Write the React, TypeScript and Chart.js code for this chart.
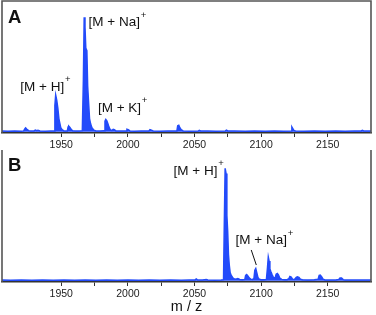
import React, { useEffect, useRef } from 'react';
import { Chart, registerables } from 'chart.js';

Chart.register(...registerables);

// ---- data ----
const X_MIN = 1905.5;
const X_MAX = 2182.5;
const Y_MIN = -1;
const Y_MAX = 100;
const majorTicks = [1950, 2000, 2050, 2100, 2150];
const axisTitle = 'm / z';

// Panel A spectrum (m/z, relative intensity)
const mzA = [
  1905.5, 1910, 1915, 1920, 1921.8, 1922.6, 1923.2, 1924.2, 1925.5, 1927, 1929.5, 1930.5, 1931.5, 1932.5, 1934,
  1938, 1942, 1944.6, 1945.2, 1945.8, 1946.6, 1947.4, 1948.2, 1948.8, 1949.6, 1950.6, 1952, 1954.5, 1955.1,
  1955.6, 1956.5, 1957.4, 1958.5, 1961, 1963.5, 1965.8, 1966.6, 1967.2, 1967.8, 1968.4, 1969.2, 1969.8, 1970.4,
  1971.2, 1972, 1973, 1974.5, 1976, 1979, 1982.2, 1982.8, 1983.4, 1984.2, 1985, 1985.8, 1986.8, 1988, 1989,
  1989.8, 1991, 1994, 1998.6, 1999.3, 2000.3, 2001.5, 2005, 2010, 2015.8, 2016.6, 2017.6, 2019, 2024, 2030,
  2036.8, 2037.4, 2038.2, 2039, 2040, 2041.5, 2046, 2052.8, 2053.6, 2054.6, 2060, 2066, 2073.2, 2074, 2075,
  2080, 2088, 2095, 2103, 2110, 2117, 2122.6, 2123.1, 2123.8, 2124.6, 2125.8, 2132, 2140, 2148, 2156, 2163,
  2170, 2175.2, 2176, 2177, 2182.5,
];
const intA = [
  0.5, 0.4, 0.6, 0.4, 0.6, 2.2, 2.9, 1.8, 0.8, 0.5, 0.6, 1.2, 0.7, 1.1, 0.5,
  0.4, 0.5, 0.6, 20, 28, 24, 18, 10, 7, 3, 1.5, 0.6, 0.5, 3.5,
  4.2, 3.2, 1.8, 0.7, 0.5, 0.5, 0.8, 40, 87.5, 80, 64, 62, 35, 24,
  10, 6, 3, 1.2, 0.6, 0.5, 0.7, 8, 9.3, 8.2, 6, 3.5, 1.5, 0.8, 1.8,
  1.6, 0.6, 0.5, 0.6, 1.8, 1.5, 0.6, 0.4, 0.5, 0.6, 1.6, 1.2, 0.5, 0.4, 0.5,
  0.6, 4.6, 5, 3, 1.5, 0.6, 0.4, 0.5, 1.1, 0.6, 0.5, 0.4, 0.6, 1.2, 0.6,
  0.5, 0.4, 0.5, 0.4, 0.5, 0.4, 0.6, 3.6, 2.4, 1, 0.5, 0.4, 0.5, 0.4, 0.5, 0.4,
  0.5, 0.6, 1.1, 0.6, 0.5,
];

// Panel B spectrum
const mzB = [
  1905.5, 1912, 1920, 1928, 1936, 1944, 1952, 1960, 1968, 1976, 1984, 1992, 2000, 2008, 2016, 2024, 2032, 2040,
  2046, 2050.5, 2051.3, 2052.2, 2056, 2058.8, 2060, 2065, 2070, 2071.8, 2072.4, 2073, 2073.7, 2074.3, 2074.9,
  2075.5, 2076.1, 2076.8, 2077.6, 2078.6, 2079.6, 2081, 2082.5, 2084, 2086, 2087.8, 2088.4, 2089.2, 2090.2,
  2091.2, 2092.2, 2093.5, 2094.6, 2095.3, 2096, 2096.8, 2097.6, 2098.6, 2100, 2102, 2104, 2104.8, 2105.4, 2106,
  2106.6, 2107.3, 2108.2, 2109.2, 2110.5, 2111.3, 2112.2, 2113, 2114, 2115.5, 2117.5, 2119.5, 2120.8, 2121.6,
  2122.6, 2123.6, 2125, 2126.4, 2127.2, 2128.4, 2129.5, 2131, 2135, 2140, 2142.8, 2143.6, 2144.4, 2145.4,
  2146.5, 2148, 2152, 2156, 2158.3, 2159.2, 2160.4, 2161.6, 2163, 2168, 2174, 2178, 2182.5,
];
const intB = [
  0.5, 0.4, 0.5, 0.4, 0.5, 0.4, 0.5, 0.4, 0.5, 0.4, 0.5, 0.4, 0.5, 0.4, 0.5, 0.4, 0.5, 0.4,
  0.5, 0.6, 1.3, 0.6, 0.5, 0.9, 0.5, 0.4, 0.5, 0.8, 45, 86, 82, 50, 38,
  20, 12, 6, 4, 2.5, 1.5, 1.2, 1.6, 0.9, 0.8, 1, 4, 4.7, 3.5,
  2, 1.2, 1, 1.5, 8, 9.3, 6, 2.5, 1.2, 0.8, 0.8, 1, 10, 18, 15,
  9, 7, 4.7, 2.5, 2, 5, 5.5, 4.5, 2, 1, 0.8, 0.8, 1.5, 3.2,
  2.8, 1.2, 1, 2.6, 3, 2.6, 1.2, 0.7, 0.6, 0.7, 1.2, 4, 4.2, 3,
  1.2, 0.6, 0.5, 0.6, 1, 2.1, 2, 0.8, 0.5, 0.5, 0.6, 0.5, 0.6,
];

// Peak annotations: text and anchor (m/z, intensity) of the text's left-middle
const annTextA = ['[M + H]', '[M + Na]', '[M + K]'];
const annMzA = [1919.2, 1970.5, 1977.5];
const annIntA = [34, 83.4, 17.9];
const annTextB = ['[M + H]', '[M + Na]'];
const annMzB = [2034.3, 2080.8];
const annIntB = [83.9, 30.6];
// Pointer line for [M + Na]+ in B (from, to) in data coords
const pointerB = [
  [2092.6, 23.5],
  [2096.4, 12],
];

const BLUE = 'rgb(35, 75, 250)';
const FRAME = '#555';
const FONT = '"Liberation Sans", Arial, Helvetica, sans-serif';

function makeDecor(letter: string, letterOffset: number, drawTop: boolean, texts: string[], mzs: number[], ints: number[], pointer: number[][] | null, title: boolean) {
  return {
    id: 'decor' + letter,
    afterDraw(chart: any) {
      const { ctx, chartArea, scales } = chart;
      const xs = scales.x;
      const ys = scales.y;
      ctx.save();
      // frame
      ctx.strokeStyle = FRAME;
      ctx.lineWidth = 1.6;
      ctx.beginPath();
      ctx.moveTo(chartArea.left, chartArea.bottom);
      ctx.lineTo(chartArea.left, chartArea.top);
      if (drawTop) ctx.lineTo(chartArea.right, chartArea.top);
      else ctx.moveTo(chartArea.right, chartArea.top);
      ctx.lineTo(chartArea.right, chartArea.bottom);
      ctx.stroke();
      // panel letter
      ctx.fillStyle = '#111';
      ctx.font = 'bold 18.5px ' + FONT;
      ctx.textAlign = 'left';
      ctx.textBaseline = 'alphabetic';
      ctx.fillText(letter, chartArea.left + 6, chartArea.top + letterOffset);
      // annotations
      for (let i = 0; i < texts.length; i++) {
        const x = xs.getPixelForValue(mzs[i]);
        const y = ys.getPixelForValue(ints[i]);
        ctx.font = '13.5px ' + FONT;
        ctx.textBaseline = 'middle';
        ctx.fillText(texts[i], x, y);
        const w = ctx.measureText(texts[i]).width;
        ctx.font = '9.5px ' + FONT;
        ctx.fillText('+', x + w + 0.8, y - 7.5);
      }
      if (pointer) {
        ctx.strokeStyle = '#111';
        ctx.lineWidth = 1;
        ctx.beginPath();
        ctx.moveTo(xs.getPixelForValue(pointer[0][0]), ys.getPixelForValue(pointer[0][1]));
        ctx.lineTo(xs.getPixelForValue(pointer[1][0]), ys.getPixelForValue(pointer[1][1]));
        ctx.stroke();
      }
      if (title) {
        ctx.fillStyle = '#111';
        ctx.font = '14.5px ' + FONT;
        ctx.textAlign = 'center';
        ctx.textBaseline = 'middle';
        ctx.fillText(axisTitle, (chartArea.left + chartArea.right) / 2, chartArea.bottom + 24.5);
      }
      ctx.restore();
    },
  };
}

function buildConfig(mz: number[], inten: number[], padTop: number, scaleHeight: number, plugin: any) {
  return {
    type: 'line',
    data: {
      datasets: [
        {
          data: mz.map((x, i) => ({ x, y: inten[i] })),
          borderColor: BLUE,
          backgroundColor: BLUE,
          borderWidth: 1.5,
          fill: 'origin',
          pointRadius: 0,
          tension: 0,
        },
      ],
    },
    options: {
      responsive: false,
      animation: false,
      devicePixelRatio: 1,
      layout: { padding: { left: 2, right: 5, top: padTop, bottom: 0 } },
      plugins: { legend: { display: false }, tooltip: { enabled: false } },
      scales: {
        x: {
          type: 'linear',
          position: 'bottom',
          min: X_MIN,
          max: X_MAX,
          afterBuildTicks: (scale: any) => {
            scale.ticks = scale.ticks.filter((t: any) => Math.abs(t.value / 25 - Math.round(t.value / 25)) < 1e-6);
          },
          afterFit: (scale: any) => {
            scale.height = scaleHeight;
          },
          ticks: {
            stepSize: 25,
            autoSkip: false,
            maxRotation: 0,
            padding: 2,
            color: '#222',
            font: { family: FONT, size: 10.5 },
            callback: (v: any) => (majorTicks.includes(Number(v)) ? String(v) : ''),
          },
          grid: { drawOnChartArea: false, drawTicks: true, tickLength: 4, color: '#333', lineWidth: 1 },
          border: { display: true, color: '#333', width: 1.5 },
        },
        y: { display: false, min: Y_MIN, max: Y_MAX },
      },
    },
    plugins: [plugin],
  };
}

export default function App() {
  const refA = useRef<HTMLCanvasElement | null>(null);
  const refB = useRef<HTMLCanvasElement | null>(null);

  useEffect(() => {
    const chartA = new Chart(
      refA.current as HTMLCanvasElement,
      buildConfig(mzA, intA, 1, 17, makeDecor('A', 22, true, annTextA, annMzA, annIntA, null, false)) as any
    );
    const chartB = new Chart(
      refB.current as HTMLCanvasElement,
      buildConfig(mzB, intB, 0, 33, makeDecor('B', 20.5, false, annTextB, annMzB, annIntB, pointerB, true)) as any
    );
    return () => {
      chartA.destroy();
      chartB.destroy();
    };
  }, []);

  return (
    <div style={{ position: 'absolute', left: 0, top: 0, width: 376, height: 315, background: '#fff' }}>
      <canvas ref={refA} width={376} height={150} style={{ position: 'absolute', left: 0, top: 0 }} />
      <canvas ref={refB} width={376} height={165} style={{ position: 'absolute', left: 0, top: 150 }} />
    </div>
  );
}
